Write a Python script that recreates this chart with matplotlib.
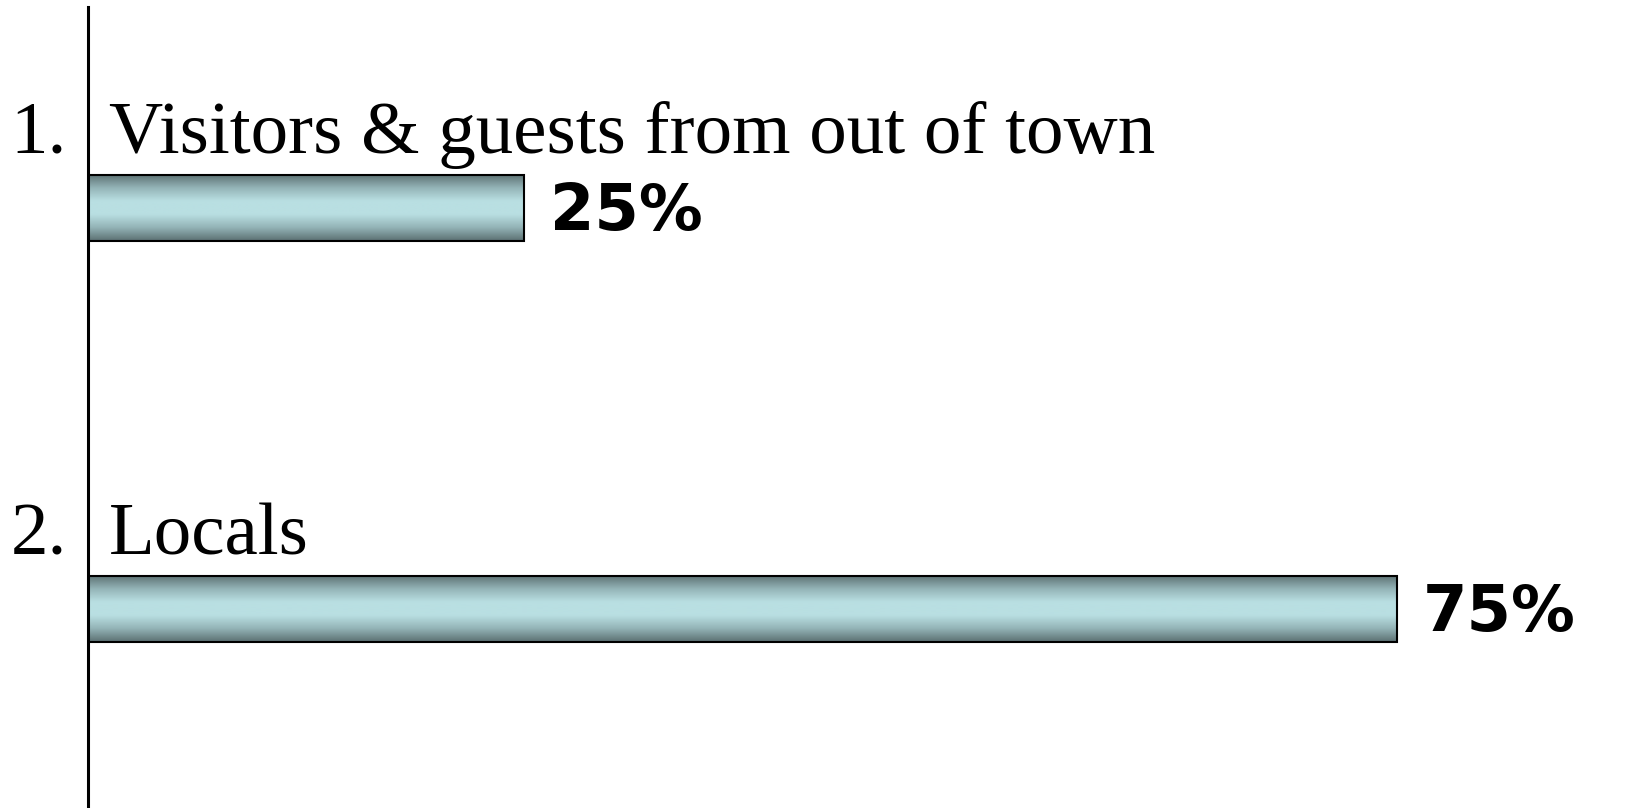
import numpy as np
import matplotlib
matplotlib.use("Agg")
import matplotlib.pyplot as plt
from matplotlib.colors import LinearSegmentedColormap

# data
numbers = ["1.", "2."]
categories = ["Visitors & guests from out of town", "Locals"]
values = [25, 75]

fig = plt.figure(figsize=(16.27, 8.08), dpi=100)
ax = fig.add_axes([88 / 1627, 0, 1 - 88 / 1627, 801 / 808])

ypos = np.arange(len(values))
bars = ax.barh(ypos, values, height=0.165, color="none",
               edgecolor="black", linewidth=1.5, zorder=3)

# vertical gradient fill: dark at edges, light in the middle
cmap = LinearSegmentedColormap.from_list(
    "steel", ["#5b6f71", "#93b3b6", "#b9dfe2", "#b9dfe2", "#93b3b6", "#5b6f71"])
grad = np.linspace(0, 1, 256).reshape(-1, 1)
for b in bars:
    x0, y0 = b.get_x(), b.get_y()
    w, h = b.get_width(), b.get_height()
    im = ax.imshow(grad, cmap=cmap, aspect="auto", extent=(x0, x0 + w, y0, y0 + h),
                   zorder=2, interpolation="bilinear")
    im.set_clip_path(b)

ax.set_xlim(0, 88.2)
ax.set_ylim(1.495, -0.5)

for y, num, cat, v in zip(ypos, numbers, categories, values):
    ax.text(-1.2, y - 0.137, num, ha="right", va="baseline",
            family="Liberation Serif", fontsize=54, clip_on=False)
    ax.text(1.2, y - 0.137, cat, ha="left", va="baseline",
            family="Liberation Serif", fontsize=54)
    ax.text(v + 1.5, y + 0.055, f"{v}%", ha="left", va="baseline",
            family="DejaVu Sans", fontweight="bold", fontsize=46)

for s in ["top", "right", "bottom"]:
    ax.spines[s].set_visible(False)
ax.spines["left"].set_linewidth(2.2)
ax.set_xticks([])
ax.set_yticks([])
ax.patch.set_alpha(0)

fig.savefig("out.png", dpi=100)
